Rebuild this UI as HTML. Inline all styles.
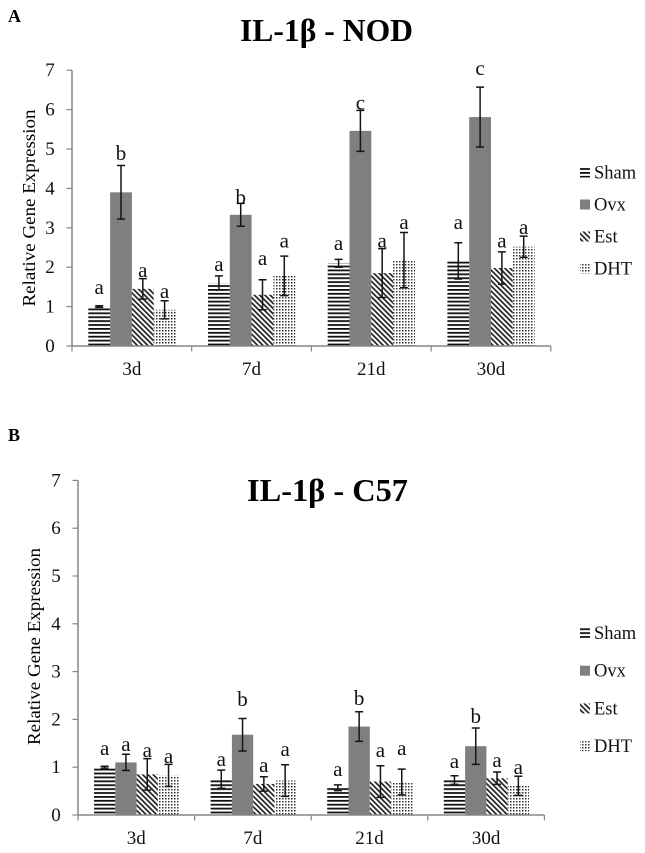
<!DOCTYPE html>
<html>
<head>
<meta charset="utf-8">
<style>
html,body{margin:0;padding:0;background:#fff;width:645px;height:853px;overflow:hidden}
svg{display:block;font-family:"Liberation Serif",serif;filter:blur(.3px)}
</style>
</head>
<body>
<svg id="figure" width="645" height="853" viewBox="0 0 645 853" xmlns="http://www.w3.org/2000/svg">
<defs>
<pattern id="p-sham" width="8" height="3.9" patternUnits="userSpaceOnUse" y="0.4"><rect width="8" height="1.8" fill="#111"/></pattern>
<pattern id="p-est" width="3.7" height="3.7" patternUnits="userSpaceOnUse" patternTransform="rotate(-45)"><rect width="3.7" height="3.7" fill="#fff"/><rect width="1.7" height="3.7" fill="#222"/></pattern>
<pattern id="p-dht" width="3" height="3" patternUnits="userSpaceOnUse"><rect width="3" height="3" fill="#fff"/><rect width="1.5" height="1.5" fill="#333"/></pattern>
</defs>
<text x="8" y="22" font-size="18" font-weight="bold">A</text>
<text x="8" y="441" font-size="18" font-weight="bold">B</text>
<text x="240" y="41" font-size="32" font-weight="bold" textLength="173" lengthAdjust="spacingAndGlyphs">IL-1β - NOD</text>
<text x="247" y="501" font-size="32" font-weight="bold" textLength="161" lengthAdjust="spacingAndGlyphs">IL-1β - C57</text>
<text transform="translate(35,208) rotate(-90)" text-anchor="middle" font-size="18" textLength="197" lengthAdjust="spacingAndGlyphs">Relative Gene Expression</text>
<text transform="translate(40,646.5) rotate(-90)" text-anchor="middle" font-size="18" textLength="197" lengthAdjust="spacingAndGlyphs">Relative Gene Expression</text>
<g id="chart-a"></g>
<g id="chart-b"></g>
</svg>
<script>
const categories = ['3d', '7d', '21d', '30d'];
const seriesNames = ['Sham', 'Ovx', 'Est', 'DHT'];
const yTicks = [0, 1, 2, 3, 4, 5, 6, 7];

const nodSham = [1.0, 1.6, 2.1, 2.16];
const nodOvx = [3.9, 3.33, 5.46, 5.81];
const nodEst = [1.45, 1.3, 1.85, 1.98];
const nodDht = [0.92, 1.78, 2.18, 2.52];
const nodShamErr = [0.02, 0.18, 0.1, 0.46];
const nodOvxErr = [0.68, 0.29, 0.52, 0.76];
const nodEstErr = [0.26, 0.38, 0.62, 0.41];
const nodDhtErr = [0.23, 0.5, 0.7, 0.27];
const nodShamSig = ['a', 'a', 'a', 'a'];
const nodOvxSig = ['b', 'b', 'c', 'c'];
const nodEstSig = ['a', 'a', 'a', 'a'];
const nodDhtSig = ['a', 'a', 'a', 'a'];
const nodShamSigLevel = [1.32, 1.9, 2.44, 2.97];
const nodOvxSigLevel = [4.72, 3.6, 6.0, 6.88];
const nodEstSigLevel = [1.75, 2.06, 2.5, 2.5];
const nodDhtSigLevel = [1.22, 2.5, 2.97, 2.84];

const c57Sham = [1.0, 0.75, 0.57, 0.73];
const c57Ovx = [1.1, 1.68, 1.85, 1.44];
const c57Est = [0.85, 0.65, 0.7, 0.77];
const c57Dht = [0.83, 0.72, 0.69, 0.61];
const c57ShamErr = [0.02, 0.19, 0.06, 0.09];
const c57OvxErr = [0.17, 0.34, 0.31, 0.38];
const c57EstErr = [0.33, 0.15, 0.33, 0.13];
const c57DhtErr = [0.23, 0.33, 0.27, 0.2];
const c57ShamSig = ['a', 'a', 'a', 'a'];
const c57OvxSig = ['a', 'b', 'b', 'b'];
const c57EstSig = ['a', 'a', 'a', 'a'];
const c57DhtSig = ['a', 'a', 'a', 'a'];
const c57ShamSigLevel = [1.26, 1.03, 0.82, 0.98];
const c57OvxSigLevel = [1.34, 2.28, 2.3, 1.92];
const c57EstSigLevel = [1.21, 0.9, 1.21, 1.0];
const c57DhtSigLevel = [1.09, 1.23, 1.26, 0.86];

const NS = 'http://www.w3.org/2000/svg';
const fills = ['url(#p-sham)', '#7f7f7f', 'url(#p-est)', 'url(#p-dht)'];
const slugs = ['sham', 'ovx', 'est', 'dht'];

function make(parent, tag, attrs, txt) {
  const el = document.createElementNS(NS, tag);
  for (const k in attrs) el.setAttribute(k, attrs[k]);
  if (txt !== undefined) el.textContent = txt;
  parent.appendChild(el);
  return el;
}

function drawChart(root, cfg) {
  const y = v => cfg.zeroY - v * cfg.unit;
  const groupX = i => cfg.axisX + i * cfg.groupW;
  const axisColor = '#868686';

  // bars, error bars and significance letters
  cfg.values.forEach((vals, s) => {
    vals.forEach((v, i) => {
      const bx = groupX(i) + cfg.inset + s * cfg.barW;
      const bar = make(root, 'rect', {x: bx, y: y(v), width: cfg.barW, height: cfg.zeroY - y(v), fill: fills[s]});
      
      
    });
  });
  cfg.values.forEach((vals, s) => {
    vals.forEach((v, i) => {
      const cx = groupX(i) + cfg.inset + (s + 0.5) * cfg.barW;
      const e = cfg.errors[s][i];
      const g = make(root, 'path', {
        d: 'M' + cx + ' ' + y(v + e) + 'V' + y(v - e) +
           'M' + (cx - 4) + ' ' + y(v + e) + 'h8' +
           'M' + (cx - 4) + ' ' + y(v - e) + 'h8',
        stroke: '#151515', 'stroke-width': 1.5, fill: 'none'
      });
      
      
      const t = make(root, 'text', {x: cx, y: y(cfg.sigLevels[s][i]), 'text-anchor': 'middle', 'font-size': 21, fill: '#111'}, cfg.sig[s][i]);
      
      
    });
  });

  // axes
  const right = groupX(categories.length);
  const yAxis = make(root, 'line', {x1: cfg.axisX, x2: cfg.axisX, y1: y(yTicks[yTicks.length - 1]), y2: cfg.zeroY, stroke: axisColor, 'stroke-width': 1.5});
  
  
  const xAxis = make(root, 'line', {x1: cfg.axisX, x2: right, y1: cfg.zeroY, y2: cfg.zeroY, stroke: axisColor, 'stroke-width': 1.5});
  
  

  yTicks.forEach(t => {
    const m = make(root, 'line', {x1: cfg.axisX - 5.5, x2: cfg.axisX, y1: y(t), y2: y(t), stroke: axisColor, 'stroke-width': 1.2});
    
    
    const l = make(root, 'text', {x: cfg.axisX - 22, y: y(t) + 6, 'text-anchor': 'middle', 'font-size': 19, fill: '#111'}, t);
    
    
  });
  for (let i = 0; i <= categories.length; i++) {
    const m = make(root, 'line', {x1: groupX(i), x2: groupX(i), y1: cfg.zeroY, y2: cfg.zeroY + 5.5, stroke: axisColor, 'stroke-width': 1.2});
    
    
  }
  categories.forEach((c, i) => {
    const l = make(root, 'text', {x: groupX(i) + cfg.groupW / 2, y: cfg.labelY, 'text-anchor': 'middle', 'font-size': 19, fill: '#111'}, c);
    
    
  });

  // legend
  seriesNames.forEach((n, s) => {
    const ly = cfg.legendY + s * cfg.legendGap;
    const g = make(root, 'g', {});
    
    
    make(g, 'rect', {x: 580, y: ly - 5, width: 10, height: 10, fill: fills[s]});
    make(g, 'text', {x: 594, y: ly + 6, 'font-size': 18.5, fill: '#111'}, n);
  });
}

drawChart(document.getElementById('chart-a'), {
  axisX: 72, zeroY: 346, unit: 39.4, groupW: 119.7, inset: 16.3, barW: 21.8,
  labelY: 375, legendY: 172.5, legendGap: 32,
  values: [nodSham, nodOvx, nodEst, nodDht],
  errors: [nodShamErr, nodOvxErr, nodEstErr, nodDhtErr],
  sig: [nodShamSig, nodOvxSig, nodEstSig, nodDhtSig],
  sigLevels: [nodShamSigLevel, nodOvxSigLevel, nodEstSigLevel, nodDhtSigLevel]
});
drawChart(document.getElementById('chart-b'), {
  axisX: 78, zeroY: 815, unit: 47.8, groupW: 116.6, inset: 16, barW: 21.3,
  labelY: 844, legendY: 633, legendGap: 37.7,
  values: [c57Sham, c57Ovx, c57Est, c57Dht],
  errors: [c57ShamErr, c57OvxErr, c57EstErr, c57DhtErr],
  sig: [c57ShamSig, c57OvxSig, c57EstSig, c57DhtSig],
  sigLevels: [c57ShamSigLevel, c57OvxSigLevel, c57EstSigLevel, c57DhtSigLevel]
});
</script>
</body>
</html>
